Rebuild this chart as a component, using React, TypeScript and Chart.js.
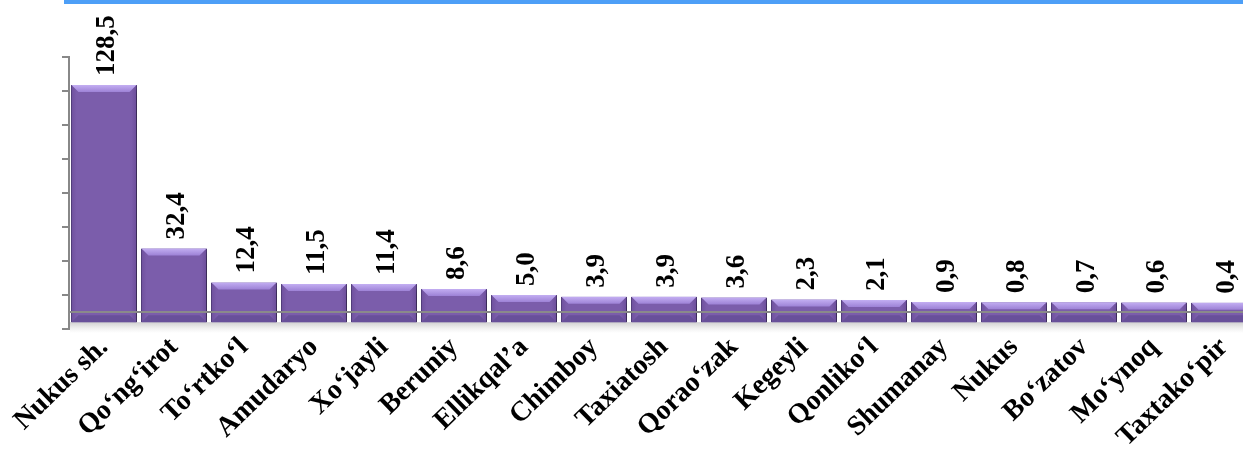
import React, { useEffect, useRef } from 'react';
import { Chart, registerables } from 'chart.js';

Chart.register(...registerables);

const categories = [
  'Nukus sh.', 'Qo‘ng‘irot', 'To‘rtko‘l', 'Amudaryo', 'Xo‘jayli', 'Beruniy',
  'Ellikqal’a', 'Chimboy', 'Taxiatosh', 'Qorao‘zak', 'Kegeyli', 'Qonliko‘l',
  'Shumanay', 'Nukus', 'Bo‘zatov', 'Mo‘ynoq', 'Taxtako‘pir',
];
const values = [128.5, 32.4, 12.4, 11.5, 11.4, 8.6, 5.0, 3.9, 3.9, 3.6, 2.3, 2.1, 0.9, 0.8, 0.7, 0.6, 0.4];
const yTickValues = [-15, 5, 25, 45, 65, 85, 105, 125, 145];

const Y_MIN = -15;
const Y_MAX = 145;
const BAR_BASE = -11;
const FLOOR_LINE = -5;

const fmt = (v: number) => v.toFixed(1).replace('.', ',');

export default function App() {
  const ref = useRef<HTMLCanvasElement | null>(null);

  useEffect(() => {
    const canvas = ref.current;
    if (!canvas) return;

    const decor = {
      id: 'decor',
      beforeDatasetsDraw(chart: any) {
        const { ctx, chartArea, scales } = chart;
        const basePx = scales.y.getPixelForValue(BAR_BASE);
        const g = ctx.createLinearGradient(0, basePx, 0, basePx + 11);
        g.addColorStop(0, 'rgba(150,150,150,0.45)');
        g.addColorStop(1, 'rgba(200,200,200,0)');
        ctx.save();
        ctx.fillStyle = g;
        ctx.fillRect(chartArea.left + 1, basePx, chartArea.right - chartArea.left, 11);
        ctx.restore();
        ctx.save();
        ctx.shadowColor = 'rgba(0,0,0,0.38)';
        ctx.shadowBlur = 10;
        ctx.shadowOffsetX = 6;
        ctx.shadowOffsetY = 3;
      },
      afterDatasetsDraw(chart: any) {
        const { ctx, chartArea, scales } = chart;
        ctx.restore();
        const meta = chart.getDatasetMeta(0);
        const bv = 7;
        meta.data.forEach((el: any) => {
          const { x, y, base, width } = el.getProps(['x', 'y', 'base', 'width'], true);
          const l = x - width / 2 + 0.5;
          const r = x + width / 2 - 0.5;
          ctx.save();
          const sg = ctx.createLinearGradient(l, 0, r, 0);
          sg.addColorStop(0, 'rgba(60,30,100,0.18)');
          sg.addColorStop(0.08, 'rgba(60,30,100,0)');
          sg.addColorStop(0.92, 'rgba(60,30,100,0)');
          sg.addColorStop(1, 'rgba(60,30,100,0.22)');
          ctx.fillStyle = sg;
          ctx.fillRect(l, y, r - l, base - y);
          const tg = ctx.createLinearGradient(0, y, 0, y + bv);
          tg.addColorStop(0, '#c3aef2');
          tg.addColorStop(1, '#9d82d6');
          ctx.fillStyle = tg;
          ctx.beginPath();
          ctx.moveTo(l, y);
          ctx.lineTo(r, y);
          ctx.lineTo(r - bv, y + bv);
          ctx.lineTo(l + bv, y + bv);
          ctx.closePath();
          ctx.fill();
          ctx.fillStyle = '#68509a';
          ctx.beginPath();
          ctx.moveTo(l, base);
          ctx.lineTo(r, base);
          ctx.lineTo(r - bv, base - bv);
          ctx.lineTo(l + bv, base - bv);
          ctx.closePath();
          ctx.fill();
          ctx.restore();
        });
        const fy = scales.y.getPixelForValue(FLOOR_LINE);
        ctx.save();
        ctx.strokeStyle = '#8a8a8a';
        ctx.lineWidth = 2;
        ctx.beginPath();
        ctx.moveTo(chartArea.left, fy);
        ctx.lineTo(chartArea.right, fy);
        ctx.stroke();
        ctx.restore();
        meta.data.forEach((el: any, i: number) => {
          const { x, y } = el.getProps(['x', 'y'], true);
          ctx.save();
          ctx.translate(x + 3, y - 9);
          ctx.rotate(-Math.PI / 2);
          ctx.font = 'bold 27px "Liberation Serif"';
          ctx.fillStyle = '#000';
          ctx.textAlign = 'left';
          ctx.textBaseline = 'middle';
          ctx.fillText(fmt(values[i]), 0, 0);
          ctx.restore();
        });
        ctx.save();
        ctx.fillStyle = '#4d9ff7';
        ctx.fillRect(64, 0, chart.width - 64, 4);
        ctx.restore();
      },
    };

    const chart = new Chart(canvas, {
      type: 'bar',
      data: {
        labels: categories,
        datasets: [
          {
            data: values,
            base: BAR_BASE,
            backgroundColor: '#7b5dab',
            borderColor: '#574480',
            borderWidth: 1,
            categoryPercentage: 1,
            barPercentage: 0.943,
          } as any,
        ],
      },
      options: {
        responsive: false,
        animation: false,
        layout: { padding: { left: 0, top: 57, right: 0, bottom: 0 } },
        plugins: { legend: { display: false }, tooltip: { enabled: false } },
        scales: {
          x: {
            grid: { display: false },
            border: { display: false },
            ticks: {
              autoSkip: false,
              maxRotation: 44,
              minRotation: 44,
              padding: -6,
              color: '#000',
              font: { family: '"Liberation Serif"', weight: 'bold', size: 28 },
            },
            afterFit: (s: any) => { s.height = 123; },
          },
          y: {
            min: Y_MIN,
            max: Y_MAX,
            afterBuildTicks: (s: any) => { s.ticks = yTickValues.map((v) => ({ value: v })); },
            ticks: { display: false },
            grid: { drawOnChartArea: false, tickLength: 7, color: '#888', lineWidth: 2 },
            border: { color: '#888', width: 2 },
            afterFit: (s: any) => { s.width = 69; },
          },
        },
      } as any,
      plugins: [decor],
    });
    return () => chart.destroy();
  }, []);

  return (
    <div style={{ position: 'fixed', left: 0, top: 0, width: 1243, height: 452, overflow: 'hidden', background: '#fff' }}>
      <canvas ref={ref} width={1259} height={452} style={{ display: 'block', width: 1259, height: 452 }} />
    </div>
  );
}
